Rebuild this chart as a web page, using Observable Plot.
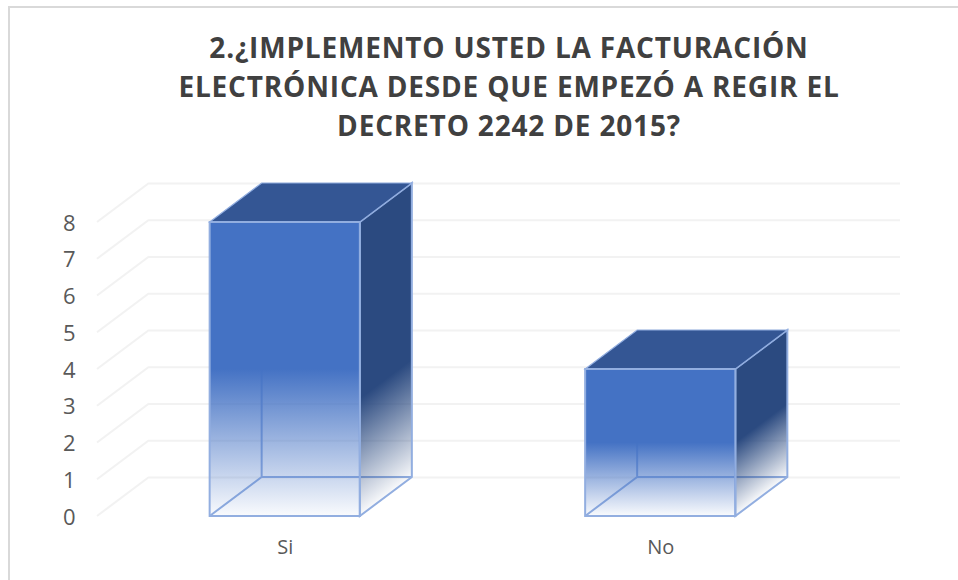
<!DOCTYPE html>
<html lang="es">
<head>
<meta charset="utf-8">
<script src="https://cdn.jsdelivr.net/npm/d3@7"></script>
<script src="https://cdn.jsdelivr.net/npm/@observablehq/plot@0.6"></script>
<style>
  html, body { margin: 0; padding: 0; width: 958px; height: 580px; overflow: hidden; background: #fff; }
  #frame { position: absolute; left: 8px; top: 6px; width: 1000px; height: 620px; border: 2px solid #d9d9d9; box-sizing: border-box; }
  #title { position: absolute; left: 0; top: 0; width: 1018px; height: 160px; box-sizing: border-box; padding-top: 28px;
    text-align: center; font: 700 28px/39px "Open Sans", sans-serif; letter-spacing: 0.82px; color: #404040; }
  #chart { position: absolute; left: 0; top: 160px; }
  svg { display: block; }
</style>
</head>
<body>
<div id="frame"></div>
<div id="title">2.¿IMPLEMENTO USTED LA FACTURACIÓN<br>ELECTRÓNICA DESDE QUE EMPEZÓ A REGIR EL<br>DECRETO 2242 DE 2015?</div>
<div id="chart"></div>
<script>
const categories = ["Si", "No"];
const values = [8, 4];
const yTicks = [0, 1, 2, 3, 4, 5, 6, 7, 8];
const sideFadeStarts = [0.6, 0.5];

const table = categories.map((category, i) => ({category, value: values[i], sideFadeStart: sideFadeStarts[i], id: i}));
const depthX = 52, depthY = -39;
const edgeColor = "#92aee0";
const NS = "svg:";

const bw = x => typeof x.bandwidth === "function" ? x.bandwidth() : x.bandwidth;

function defs() {
  const d = d3.create(NS + "defs");
  const fade = (id, color, start) => {
    const g = d.append(NS + "linearGradient").attr("id", id).attr("x1", 0).attr("y1", 0).attr("x2", 0).attr("y2", 1);
    g.append(NS + "stop").attr("offset", 0).attr("stop-color", color).attr("stop-opacity", 1);
    g.append(NS + "stop").attr("offset", start).attr("stop-color", color).attr("stop-opacity", 1);
    g.append(NS + "stop").attr("offset", 1).attr("stop-color", color).attr("stop-opacity", 0.03);
  };
  fade("frontFade", "#4472c4", 0.5);
  for (const {id, sideFadeStart} of table) fade(`sideFade${id}`, "#2b4a80", sideFadeStart);
  return d.node();
}

function wallGrid(index, {y}, v, {marginLeft}) {
  const g = d3.create(NS + "g").attr("stroke", "#f2f2f2").attr("stroke-width", 2);
  for (const t of yTicks) {
    g.append(NS + "line").attr("x1", marginLeft).attr("y1", y(t))
      .attr("x2", marginLeft + depthX).attr("y2", y(t) + depthY);
  }
  return g.node();
}

function innerEdges(index, {x, y}) {
  const g = d3.create(NS + "g").attr("stroke", edgeColor).attr("stroke-width", 2).attr("fill", "none");
  for (const {category, value} of table) {
    const x0 = x(category), x1 = x0 + bw(x), y0 = y(0);
    g.append(NS + "path").attr("d", `M${x0},${y0}L${x0 + depthX},${y0 + depthY}L${x1 + depthX},${y0 + depthY}M${x0 + depthX},${y0 + depthY}V${y(value) + depthY}`);
  }
  return g.node();
}

function sideFaces(index, {x, y}) {
  const g = d3.create(NS + "g");
  for (const {category, value, id} of table) {
    const x1 = x(category) + bw(x), y0 = y(0), h = y0 - y(value);
    g.append(NS + "rect").attr("x", 0).attr("y", -h).attr("width", depthX).attr("height", h)
      .attr("transform", `matrix(1,${depthY / depthX},0,1,${x1},${y0})`)
      .attr("fill", `url(#sideFade${id})`).attr("stroke", edgeColor).attr("stroke-width", 2)
      .attr("vector-effect", "non-scaling-stroke");
  }
  return g.node();
}

function topFaces(index, {x, y}) {
  const g = d3.create(NS + "g");
  for (const {category, value} of table) {
    const x0 = x(category), x1 = x0 + bw(x), yv = y(value);
    g.append(NS + "path").attr("d", `M${x0},${yv}L${x0 + depthX},${yv + depthY}H${x1 + depthX}L${x1},${yv}Z`)
      .attr("fill", "#345694").attr("stroke", edgeColor).attr("stroke-width", 1.2);
  }
  return g.node();
}

const plot = Plot.plot({
  width: 958,
  height: 420,
  marginLeft: 97,
  marginRight: 110,
  marginTop: 62,
  marginBottom: 64,
  style: {fontFamily: "'Open Sans', sans-serif", color: "#595959", overflow: "visible", background: "transparent"},
  x: {domain: categories, paddingInner: 0.6, paddingOuter: 0.3, round: false, label: null},
  y: {domain: [0, 8], label: null},
  marks: [
    defs,
    wallGrid,
    Plot.ruleY(yTicks, {stroke: "#f2f2f2", strokeWidth: 2, dx: depthX, dy: depthY}),
    innerEdges,
    sideFaces,
    topFaces,
    Plot.barY(table, {x: "category", y: "value", fill: "url(#frontFade)", stroke: edgeColor, strokeWidth: 2}),
    Plot.axisY({ticks: yTicks, tickSize: 0, tickPadding: 22, fontSize: 22, dy: 1, label: null}),
    Plot.axisX({tickSize: 0, tickPadding: 23, fontSize: 20, label: null})
  ]
});
document.getElementById("chart").appendChild(plot);
</script>
</body>
</html>
